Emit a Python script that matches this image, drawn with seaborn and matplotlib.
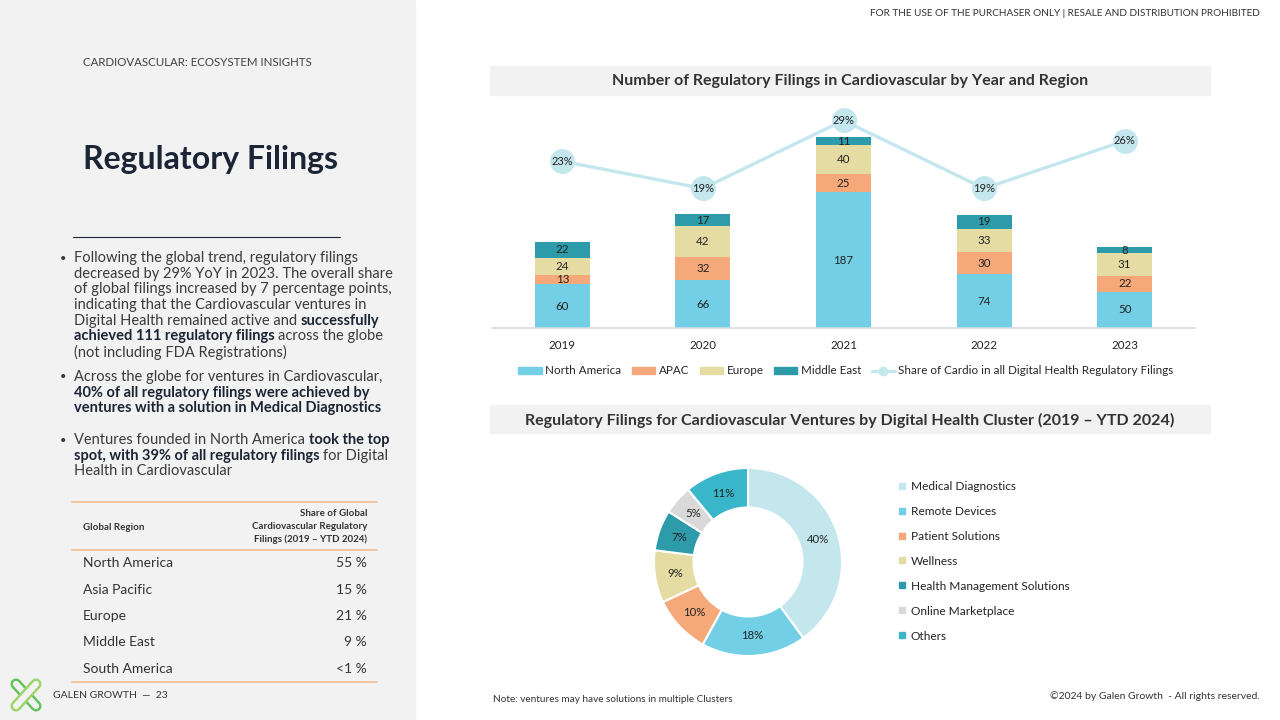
import matplotlib
matplotlib.use("Agg")
import pandas as pd
import matplotlib.pyplot as plt
import seaborn as sns
from matplotlib.patches import Rectangle, Patch
from matplotlib.lines import Line2D

# --- data ---
years = ["2019", "2020", "2021", "2022", "2023"]
north_america = [60, 66, 187, 74, 50]
apac = [13, 32, 25, 30, 22]
europe = [24, 42, 40, 33, 31]
middle_east = [22, 17, 11, 19, 8]
share_pct = [23, 19, 29, 19, 26]

clusters = ["Medical Diagnostics", "Remote Devices", "Patient Solutions", "Wellness",
            "Health Management Solutions", "Online Marketplace", "Others"]
cluster_pct = [40, 18, 10, 9, 7, 5, 11]

table_regions = ["North America", "Asia Pacific", "Europe", "Middle East", "South America"]
table_shares = ["55 %", "15 %", "21 %", "9 %", "<1 %"]

# --- colours ---
C_NA = "#72cfe6"
C_APAC = "#f5a97b"
C_EU = "#e4dca2"
C_ME = "#2e9bab"
C_SHARE = "#c4e7ee"
donut_colors = ["#c3e7ed", "#72cfe6", "#f5a97b", "#e4dca2", "#2e9bab", "#d9d9d9", "#3ab6ca"]
GREY_BG = "#f2f2f2"
TXT = "#333333"
NAVY = "#1b2535"

sns.set_theme(style="white")
plt.rcParams['font.family'] = ['Lato', 'DejaVu Sans']

fig = plt.figure(figsize=(12.8, 7.2), dpi=100)
fig.patch.set_facecolor("white")
W, H = 1280, 720


def fx(x):
    return x / W


def fy(y):
    return 1 - y / H


def ftext(x, y, s, **kw):
    kw.setdefault("va", "center")
    return fig.text(fx(x), fy(y), s, **kw)


# left grey panel
fig.add_artist(Rectangle((0, 0), fx(415), 1, transform=fig.transFigure,
                         color=GREY_BG, zorder=0))

# --- stacked bar chart ---
ax = fig.add_axes([fx(492), fy(328), fx(1195 - 492), (328 - 100) / H])
df = pd.DataFrame({"year": years, "North America": north_america, "APAC": apac,
                   "Europe": europe, "Middle East": middle_east})
layers = ["North America", "APAC", "Europe", "Middle East"]
layer_colors = [C_NA, C_APAC, C_EU, C_ME]
cum = df[layers].cumsum(axis=1)
cum["year"] = years
for layer, col in reversed(list(zip(layers, layer_colors))):
    sns.barplot(data=cum, x="year", y=layer, color=col, width=0.39,
                saturation=1, linewidth=0, ax=ax)

for i in range(len(years)):
    for layer in layers:
        val = df.loc[i, layer]
        mid = cum.loc[i, layer] - val / 2
        ax.text(i, mid, str(val), ha="center", va="center", fontsize=8.3, color="#222222")

ax.set_xlim(-0.5, 4.5)
ax.set_ylim(0, 314)
ax.set_xlabel("")
ax.set_ylabel("")
ax.set_yticks([])
for s in ["top", "left", "right"]:
    ax.spines[s].set_visible(False)
ax.spines["bottom"].set_color("#d5dde3")
ax.spines["bottom"].set_linewidth(1.2)
ax.tick_params(axis="x", length=0, labelsize=8.3, pad=9, colors="#222222")
ax.patch.set_alpha(0)

ax2 = ax.twinx()
sns.lineplot(x=list(range(len(years))), y=share_pct, ax=ax2, color=C_SHARE, lw=2.4,
             marker="o", markersize=18, markeredgewidth=0)
for i, v in enumerate(share_pct):
    ax2.text(i, v, f"{v}%", ha="center", va="center", fontsize=8, color="#222222")
ax2.set_ylim(-1.5, 32)
ax2.set_xlim(-0.5, 4.5)
ax2.set_yticks([])
ax2.set_ylabel("")
for s in ax2.spines.values():
    s.set_visible(False)

handles = [Patch(color=c, label=l) for c, l in zip(layer_colors, layers)]
handles.append(Line2D([], [], color=C_SHARE, lw=2.4, marker="o", markersize=6,
                      label="Share of Cardio in all Digital Health Regulatory Filings"))
fig.legend(handles=handles, loc="center", bbox_to_anchor=(fx(846), fy(371)), ncol=5,
           frameon=False, fontsize=8.4, handlelength=2.0, handleheight=0.6,
           columnspacing=0.9, handletextpad=0.3)

# title bands
for y0, y1, title in [(66, 95, "Number of Regulatory Filings in Cardiovascular by Year and Region"),
                      (405, 433, "Regulatory Filings for Cardiovascular Ventures by Digital Health Cluster (2019 \u2013 YTD 2024)")]:
    fig.add_artist(Rectangle((fx(490), fy(y1)), fx(720), (y1 - y0) / H,
                             transform=fig.transFigure, color=GREY_BG, zorder=0))
    ftext(850, (y0 + y1) / 2 + 1, title, ha="center", fontsize=11.5, weight="bold", color=TXT)

# --- donut ---
R = 94
ax3 = fig.add_axes([fx(748 - R), fy(562 + R), fx(2 * R), 2 * R / H])
ax3.pie(cluster_pct, colors=donut_colors, startangle=90, counterclock=False, radius=1,
        wedgeprops=dict(width=0.42, edgecolor="white", linewidth=1.5),
        autopct=lambda p: f"{p:.0f}%", pctdistance=0.78,
        textprops=dict(fontsize=8.2, color="#222222"))
ax3.set_xlim(-1, 1)
ax3.set_ylim(-1, 1)
ax3.set_aspect("equal")

dh = [Line2D([], [], marker="s", ls="", color=c, markersize=5, label=l)
      for c, l in zip(donut_colors, clusters)]
fig.legend(handles=dh, loc="upper left", bbox_to_anchor=(fx(888), fy(470)), frameon=False,
           fontsize=8.6, labelspacing=1.17, handlelength=0.6, handletextpad=0.4,
           labelcolor="#222222")

# --- left panel text ---
ftext(83, 63, "CARDIOVASCULAR: ECOSYSTEM INSIGHTS", fontsize=8.3, color="#404040")
ftext(83, 160, "Regulatory Filings", fontsize=23, weight="bold", color=NAVY)
fig.add_artist(Line2D([fx(73), fx(340)], [fy(237), fy(237)], transform=fig.transFigure,
                      color=NAVY, lw=0.8))

renderer = fig.canvas.get_renderer()
BODY = 10.5


def space_width(weight):
    a = fig.text(0, 0, "x x", fontsize=BODY, weight=weight)
    b = fig.text(0, 0, "xx", fontsize=BODY, weight=weight)
    w = a.get_window_extent(renderer).width - b.get_window_extent(renderer).width
    a.remove()
    b.remove()
    return w


SP = space_width("normal")


def rich_line(x, y, parts):
    cx = x
    for k, (txt, bold) in enumerate(parts):
        if k > 0:
            cx += SP
        t = ftext(cx, y, txt, fontsize=BODY, weight="bold" if bold else "normal",
                  color=NAVY if bold else "#3a3a3a")
        cx += t.get_window_extent(renderer).width


bullets = [
    (258, [
        [("Following the global trend, regulatory filings", False)],
        [("decreased by 29% YoY in 2023. The overall share", False)],
        [("of global filings increased by 7 percentage points,", False)],
        [("indicating that the Cardiovascular ventures in", False)],
        [("Digital Health remained active and", False), ("successfully", True)],
        [("achieved 111 regulatory filings", True), ("across the globe", False)],
        [("(not including FDA Registrations)", False)],
    ]),
    (377, [
        [("Across the globe for ventures in Cardiovascular,", False)],
        [("40% of all regulatory filings were achieved by", True)],
        [("ventures with a solution in Medical Diagnostics", True)],
    ]),
    (440, [
        [("Ventures founded in North America", False), ("took the top", True)],
        [("spot, with 39% of all regulatory filings", True), ("for Digital", False)],
        [("Health in Cardiovascular", False)],
    ]),
]
for y0, lines in bullets:
    ftext(60, y0, "\u2022", fontsize=8, color="#3a3a3a")
    for j, parts in enumerate(lines):
        rich_line(74, y0 + j * 15.67, parts)

# table
for yl in [502, 550, 682]:
    fig.add_artist(Line2D([fx(72), fx(377)], [fy(yl), fy(yl)], transform=fig.transFigure,
                          color="#f6b98c", lw=1.2))
ftext(83, 527, "Global Region", fontsize=7, weight="bold", color=TXT)
for yy, s in zip([514, 526.5, 539], ["Share of Global", "Cardiovascular Regulatory",
                                     "Filings (2019 \u2013 YTD 2024)"]):
    ftext(367, yy, s, fontsize=7, weight="bold", color=TXT, ha="right")
for k, (reg, sh) in enumerate(zip(table_regions, table_shares)):
    yy = 563 + k * 26.5
    ftext(83, yy, reg, fontsize=10, color=TXT)
    ftext(367, yy, sh, fontsize=10, color=TXT, ha="right")

# footer logo
for (x0, y0, x1, y1), col in [(((16, 684, 36, 706)), "#62c25c"), ((16, 706, 36, 684), "#9ed46a")]:
    fig.add_artist(Line2D([fx(x0), fx(x1)], [fy(y0), fy(y1)], transform=fig.transFigure,
                          color=col, lw=8, solid_capstyle="round"))
    fig.add_artist(Line2D([fx(x0), fx(x1)], [fy(y0), fy(y1)], transform=fig.transFigure,
                          color=GREY_BG, lw=4.5, solid_capstyle="round"))
ftext(53, 695, "GALEN GROWTH  \u2014  23", fontsize=7.5, color=TXT)

ftext(1260, 14, "FOR THE USE OF THE PURCHASER ONLY | RESALE AND DISTRIBUTION PROHIBITED",
      fontsize=7.2, color=TXT, ha="right")
ftext(493, 699, "Note: ventures may have solutions in multiple Clusters", fontsize=7.2, color=TXT)
ftext(1260, 696, "\u00a92024 by Galen Growth  - All rights reserved.", fontsize=7.5,
      color=TXT, ha="right")

fig.savefig("out.png", dpi=100)
